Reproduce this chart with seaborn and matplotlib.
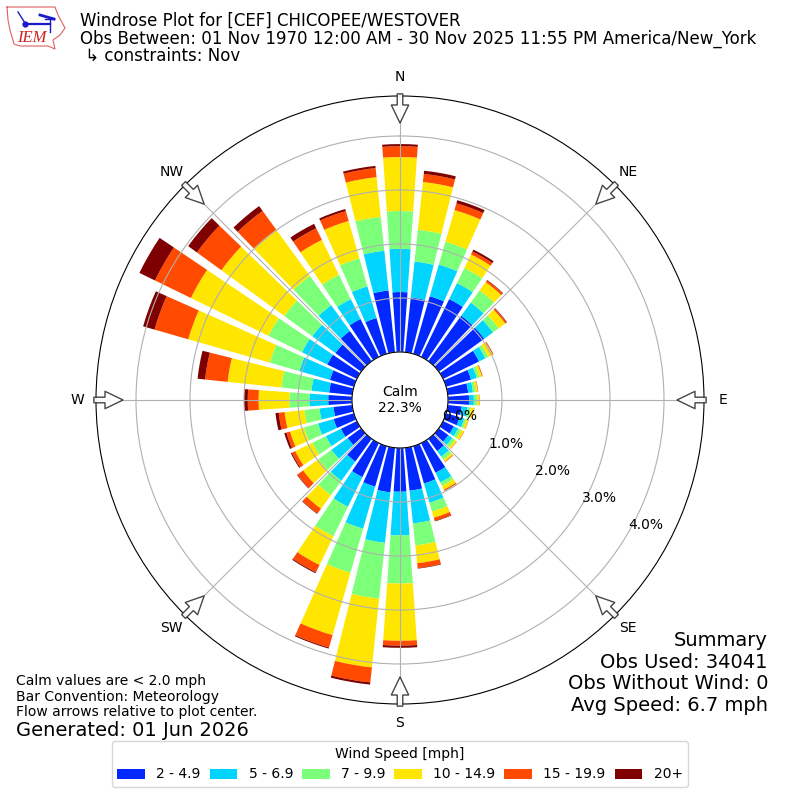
import numpy as np
import pandas as pd
import seaborn as sns
import matplotlib
matplotlib.use("Agg")
import matplotlib.pyplot as plt
from matplotlib.patches import Circle, Patch

directions = list(range(0, 360, 10))
speed_labels = ["2 - 4.9", "5 - 6.9", "7 - 9.9", "10 - 14.9", "15 - 19.9", "20+"]
speed_colors = ["#0028ff", "#00d4ff", "#7cff79", "#ffe600", "#ff4a00", "#7f0000"]

s_2_5 = [1.11,1.02,1.11,1.19,1.04,1.04,.74,.48,.38,.39,.26,.26,.22,.22,.28,.61,.72,.80,
         .81,.83,.78,.70,.52,.31,.33,.39,.35,.44,.43,.46,.61,.59,.69,.78,.69,1.15]
s_5_7 = [.80,.67,.61,.33,.30,.20,.13,.11,.09,.09,.11,.09,.09,.09,.13,.20,.37,.61,
         .81,.94,.81,.61,.44,.37,.31,.30,.26,.35,.33,.59,.52,.53,.59,.41,.61,.74]
s_7_10 = [.70,.59,.44,.31,.28,.13,.06,.05,.05,.06,.06,.04,.06,.06,.07,.07,.17,.41,
          .89,1.04,.85,.61,.33,.30,.28,.27,.28,.37,.56,.57,.69,.64,.67,.50,.54,.63]
s_10_15 = [1.00,.89,.61,.28,.19,.15,.09,.05,.04,.04,.06,.04,.06,.04,.04,.08,.12,.33,
           1.06,1.28,1.20,.59,.31,.35,.35,.27,.37,.57,1.00,1.57,1.60,1.44,1.06,.72,.72,.74]
s_15_20 = [.20,.15,.13,.06,.04,.03,.013,.01,.006,.004,.004,.004,.004,.004,.01,.02,.06,.09,
           .09,.28,.24,.15,.11,.13,.07,.07,.11,.20,.42,.65,.74,.56,.43,.24,.19,.17]
s_20up = [.04,.06,.06,.04,.01,.01,.005,.004,.002,.002,.002,.002,.002,.002,.002,.004,.01,.01,
          .04,.04,.02,.02,.01,.01,.02,.04,.06,.07,.14,.22,.32,.20,.11,.09,.04,.04]
series = [s_2_5, s_5_7, s_7_10, s_10_15, s_15_20, s_20up]

compass = ["N", "NE", "E", "SE", "S", "SW", "W", "NW"]
radial_ticks = [0, 1, 2, 3, 4]

title_text = ("Windrose Plot for [CEF] CHICOPEE/WESTOVER\n"
              "Obs Between: 01 Nov 1970 12:00 AM - 30 Nov 2025 11:55 PM America/New_York\n"
              " \u21b3 constraints: Nov")
notes_text = ("Calm values are < 2.0 mph\nBar Convention: Meteorology\n"
              "Flow arrows relative to plot center.")
summary_text = "Summary\nObs Used: 34041\nObs Without Wind: 0\nAvg Speed: 6.7 mph"

W = 800.0
fig = plt.figure(figsize=(8, 8), dpi=100)
ax = fig.add_axes([96 / W, 96 / W, 608 / W, 608 / W], projection="polar")
ax.set_theta_zero_location("N")
ax.set_theta_direction(-1)

palette = sns.color_palette(speed_colors)
theta = np.deg2rad(directions)
running = np.zeros(len(directions))
for i, values in enumerate(series):
    frame = pd.DataFrame({"theta": theta, "percent": values})
    sns.barplot(data=frame, x="theta", y="percent", native_scale=True, width=0.8,
                color=palette[i], saturation=1, errorbar=None, linewidth=0,
                edgecolor="none", bottom=running.copy(), legend=False, ax=ax)
    running = running + np.array(values)

ax.set_xlabel("")
ax.set_ylabel("")
ax.set_ylim(-48 / 54, 256 / 54)
ax.set_xlim(0, 2 * np.pi)
ax.set_xticks(np.deg2rad(np.arange(0, 360, 45)))
ax.set_xticklabels(compass, fontsize=10)
ax.tick_params(axis="x", pad=3)
ax.set_yticks(radial_ticks)
ax.set_yticklabels([""] + [f"{v:.1f}%" for v in radial_ticks[1:]], fontsize=10)
ax.set_rlabel_position(120)
ax.grid(True, color="#b0b0b0", linewidth=0.8)
ax.set_axisbelow(False)

ax.add_patch(Circle((0.5, 0.5), 48 / 608, transform=ax.transAxes, facecolor="white",
                    edgecolor="black", linewidth=0.8, zorder=3))
ax.text(0.5, 0.5, "Calm\n22.3%", transform=ax.transAxes, ha="center", va="center",
        fontsize=10, zorder=6)
ax.text((460 - 96) / 608, (800 - 416 - 96) / 608, f"{radial_ticks[0]:.1f}%",
        transform=ax.transAxes, ha="center", va="center", fontsize=10, zorder=6)

# flow arrows
for ang in np.arange(0, 360, 45):
    t = np.deg2rad(ang)
    ax.annotate("", xy=(t, 4.24), xytext=(t, 4.78), xycoords="data", textcoords="data",
                annotation_clip=False, zorder=5,
                arrowprops=dict(facecolor="white", edgecolor="#333333", linewidth=1,
                                width=4, headwidth=12.5, headlength=13, shrink=0, alpha=0.9))

fig.text(80 / W, 1 - 12 / W, title_text, fontsize=12.01, va="top", ha="left", linespacing=0.96)
fig.text(16 / W, 1 - 674.5 / W, notes_text, fontsize=10, va="top", ha="left", linespacing=1.13)
fig.text(16 / W, 1 - 730 / W, "Generated: 01 Jun 2026", fontsize=14, va="center", ha="left")
fig.text(768 / W, 1 - 631 / W, summary_text, fontsize=14, va="top", ha="right",
         multialignment="right", linespacing=1.17)

handles = [Patch(facecolor=c, label=l) for c, l in zip(palette, speed_labels)]
fig.legend(handles=handles, title="Wind Speed [mph]", ncol=6, loc="lower center",
           bbox_to_anchor=(0.5, 1 - 794 / W), fontsize=10, title_fontsize=10,
           columnspacing=0.65)

# IEM logo
logo = fig.add_axes([0, 1 - 55 / W, 70 / W, 55 / W])
logo.set_xlim(0, 70)
logo.set_ylim(55, 0)
logo.axis("off")
outline_x = [7, 55, 58, 65, 60, 53, 55, 48, 20, 14, 10, 8, 7]
outline_y = [7, 7, 15, 28, 35, 40, 49, 46, 46, 44, 30, 20, 7]
logo.plot(outline_x, outline_y, color="#e06060", linewidth=0.8)
logo.plot([25, 50], [23.5, 23.5], color="#1a1acc", linewidth=1.6)
logo.plot([18, 25], [12, 23], color="#1a1acc", linewidth=1)
logo.plot([40, 54], [15, 19], color="#1a1acc", linewidth=2)
logo.plot([45, 54], [19, 19], color="#1a1acc", linewidth=1)
logo.plot([50, 50], [19, 32], color="#1a1acc", linewidth=1)
logo.plot([25], [23.5], "o", color="#1a1acc", markersize=3.5)
logo.text(32, 38, "IEM", color="#d02020", fontsize=12, family="Liberation Serif",
          style="italic", ha="center", va="center")

fig.savefig("out.png", dpi=100)
